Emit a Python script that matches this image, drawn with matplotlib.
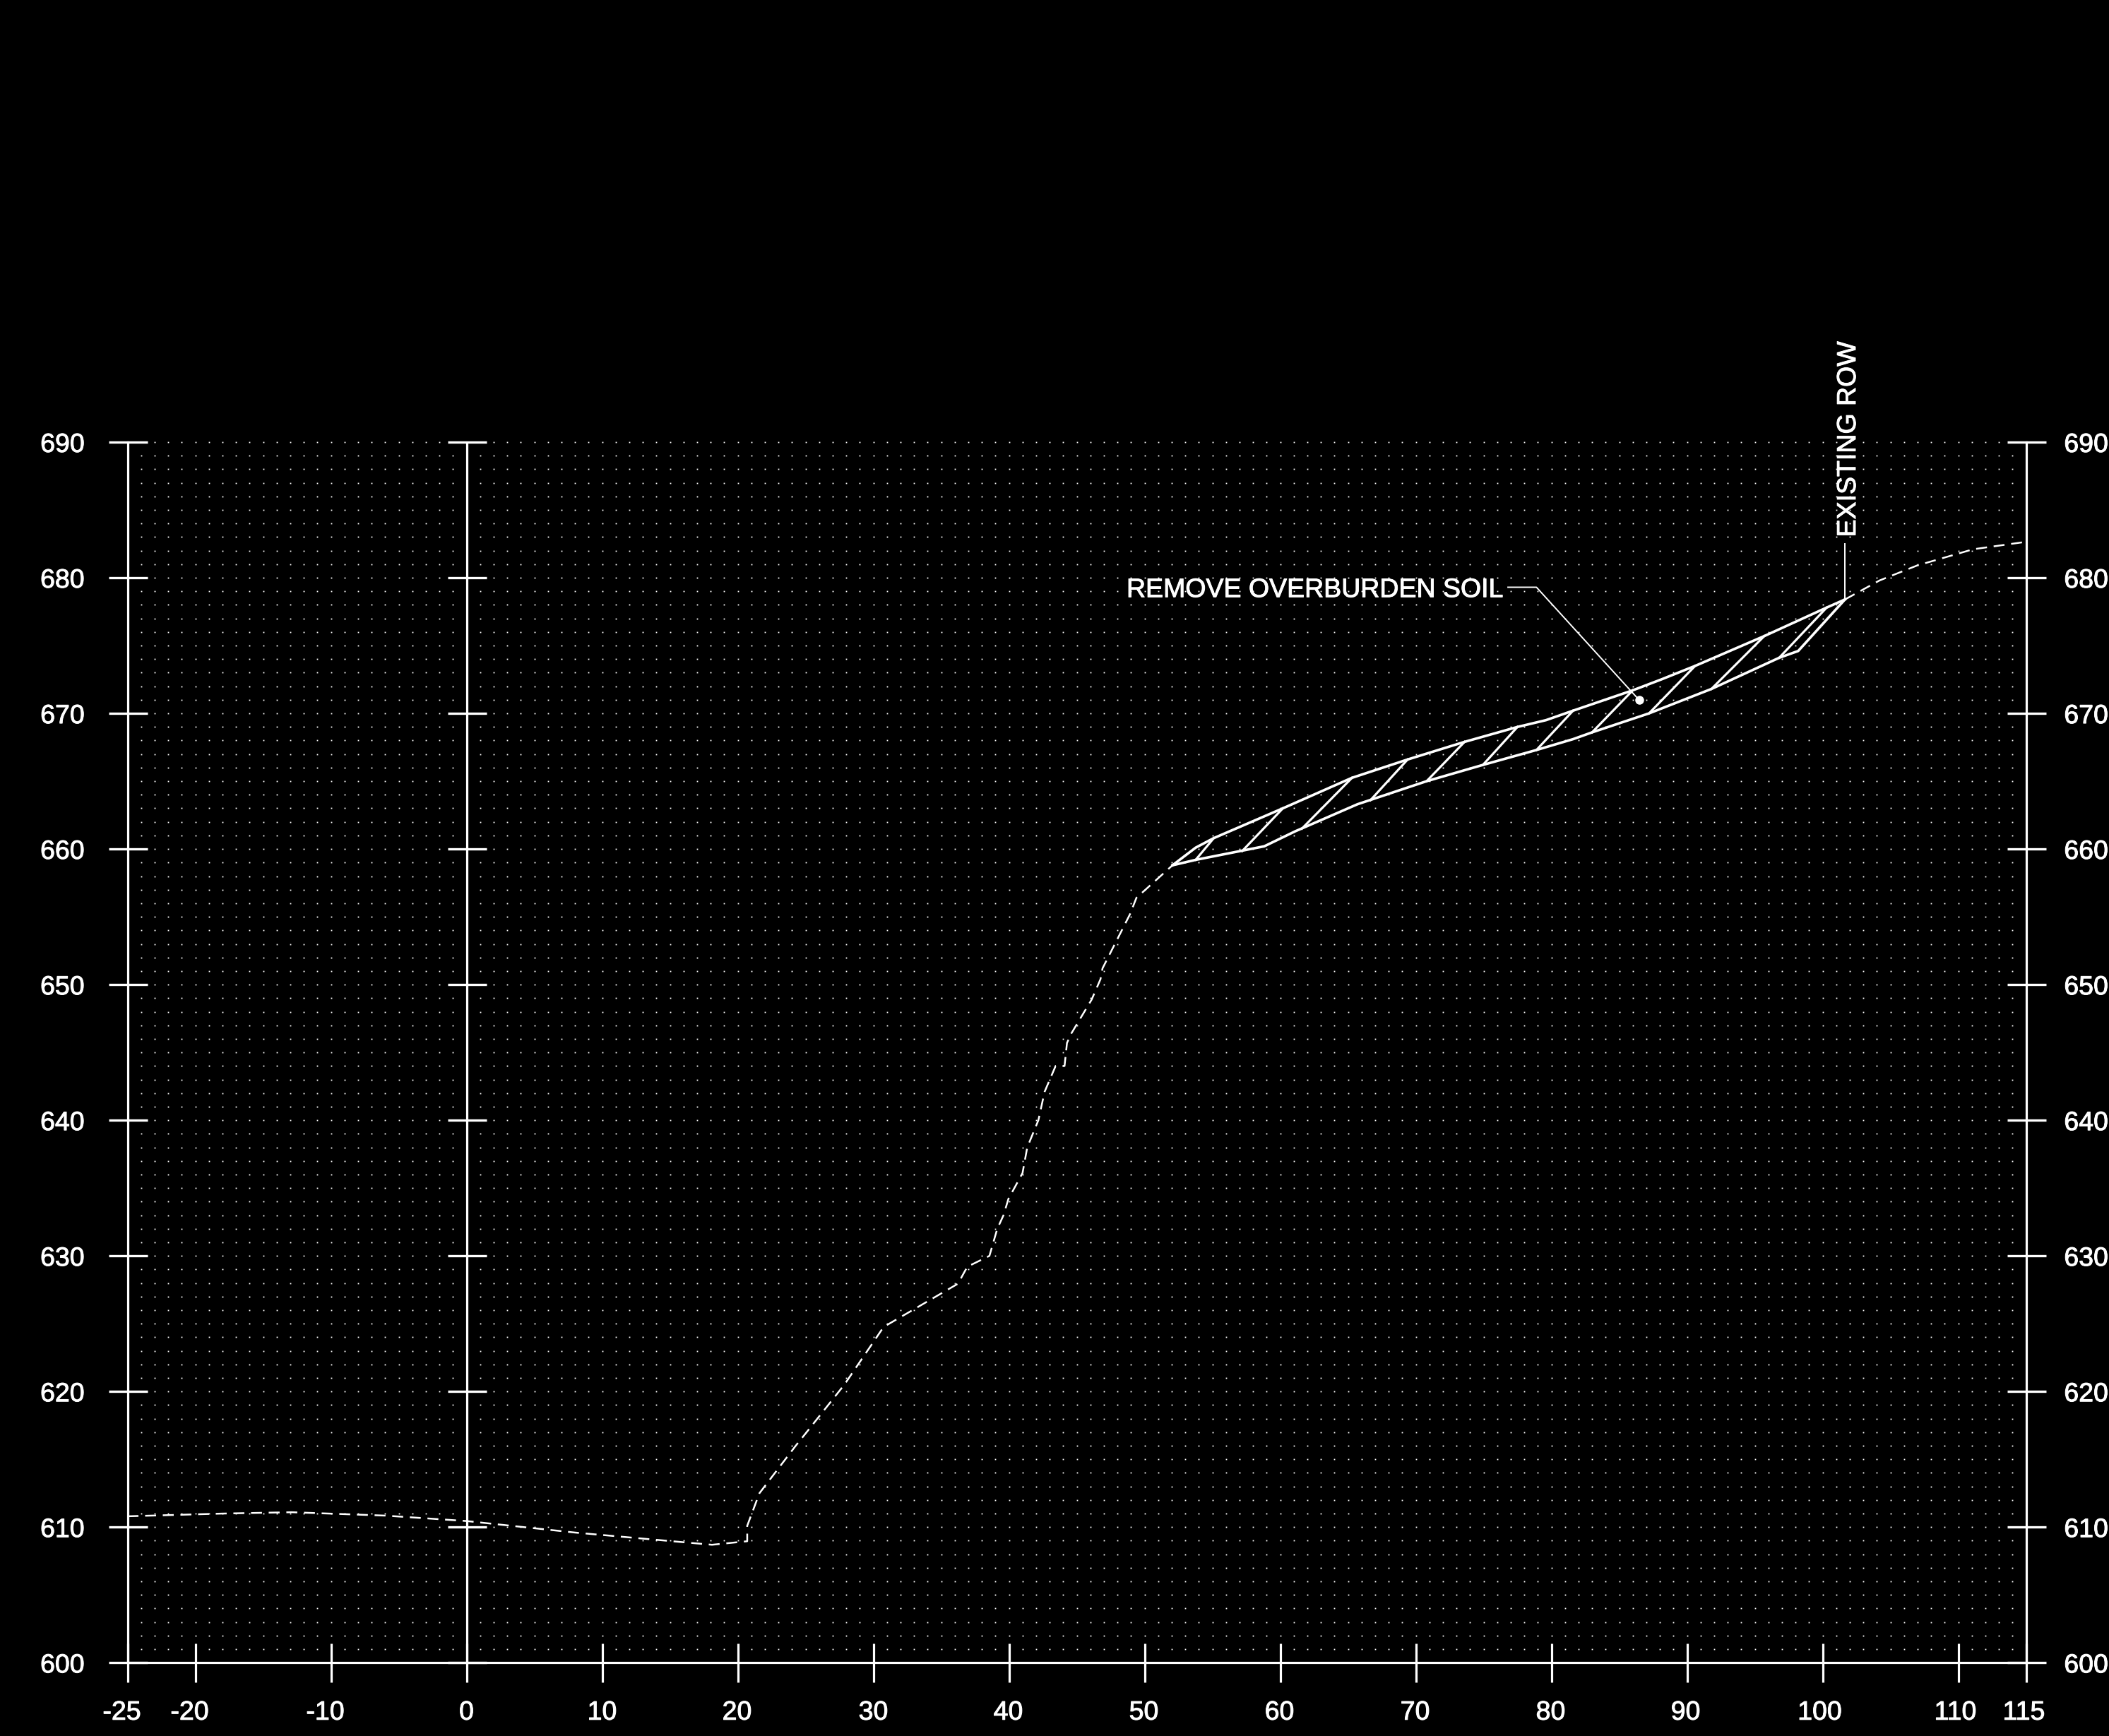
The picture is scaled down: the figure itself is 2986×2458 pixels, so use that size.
import matplotlib
matplotlib.use('Agg')
import matplotlib.pyplot as plt
import matplotlib.patheffects as pe
import matplotlib.transforms as mtrans
import numpy as np

plt.rcParams['font.family'] = ['Liberation Sans', 'DejaVu Sans']
plt.rcParams['axes.unicode_minus'] = False

# existing ground, left part (dashed)
ground_left_x = [-25, -18, -12.9, -6, 0, 8, 18.1, 20.7, 20.7, 21.6, 24.26, 25.08, 27.86, 30.65, 31.0,
                 36.24, 36.93, 38.56, 39.14, 39.6, 39.96, 41.0, 41.35, 42.17, 42.63, 43.44, 44.1,
                 44.28, 44.6, 46.1, 46.75, 46.9, 48.93, 49.4, 52.06]
ground_left_y = [610.8, 611.0, 611.1, 610.85, 610.45, 609.6, 608.7, 608.96, 610.1, 612.5, 615.98, 617.0, 620.5, 624.6, 624.9,
                 627.95, 629.2, 630.0, 632.0, 633.0, 634.2, 636.1, 638.0, 640.0, 642.1, 644.0, 644.0,
                 645.7, 646.4, 648.9, 650.4, 651.2, 655.2, 656.4, 658.8]

# existing ground, right part (dashed)
ground_right_x = [101.65, 104.2, 106.96, 111.1, 115]
ground_right_y = [678.4, 679.8, 680.9, 682.1, 682.65]

# soil surface above the cut
upper_x = [52.06, 53.77, 55.1, 60.2, 65.3, 69.4, 73.6, 77.5, 79.6, 81.6, 86.0, 88.1, 90.6, 95.7, 100.3, 101.65]
upper_y = [658.8, 660.1, 660.8, 663.0, 665.25, 666.6, 667.9, 669.0, 669.5, 670.2, 671.7, 672.5, 673.5, 675.7, 677.8, 678.4]

# cut line
lower_x = [52.06, 53.77, 58.83, 61.1, 65.7, 70.8, 74.95, 78.9, 81.6, 83.0, 87.2, 91.8, 96.8, 98.2, 101.65]
lower_y = [658.8, 659.2, 660.2, 661.3, 663.3, 665.0, 666.2, 667.3, 668.1, 668.6, 670.0, 671.8, 674.1, 674.6, 678.4]

# hatch strokes between the two lines
hatch_x0 = [53.77, 57.2, 61.6, 66.66, 70.8, 74.95, 78.9, 83.0, 87.2, 91.8, 96.8]
hatch_y0 = [659.2, 659.85, 661.5, 663.6, 665.0, 666.2, 667.3, 668.6, 670.0, 671.8, 674.1]
hatch_x1 = [55.1, 60.2, 65.3, 69.4, 73.6, 77.5, 81.6, 86.0, 90.6, 95.7, 100.3]
hatch_y1 = [660.8, 663.0, 665.25, 666.6, 667.9, 669.0, 670.2, 671.7, 673.5, 675.7, 677.8]

# leaders
soil_leader_x = [76.8, 78.9, 86.46]
soil_leader_y = [679.3, 679.3, 671.0]
row_leader_x = [101.65, 101.65]
row_leader_y = [678.4, 682.5]

x_ticks = [-25, -20, -10, 0, 10, 20, 30, 40, 50, 60, 70, 80, 90, 100, 110, 115]
y_ticks = [600, 610, 620, 630, 640, 650, 660, 670, 680, 690]
x_label_shift_px = [-8, -8, -8, 0, 0, -1, 0, -1, -1, -1, -1, -1, -2, -4, -4, -3]

W, H = 2986, 2458
fig = plt.figure(figsize=(W / 100, H / 100), dpi=100, facecolor='black')
ax = fig.add_axes([180.5 / W, (H - 2354.3) / H, 2688 / W, 1728.3 / H], facecolor='black')
ax.set_xlim(-25, 115)
ax.set_ylim(600, 690)

# dot grid, one dot per unit
gx, gy = np.meshgrid(np.arange(-24, 115), np.arange(601, 691))
ax.plot(gx.ravel(), gy.ravel(), ls='', marker='s', ms=1.3, mew=0, color='white', clip_on=False, zorder=1)

# middle axis at x=0 with its own ticks
ax.plot([0, 0], [600, 690], color='white', lw=2.3, solid_capstyle='butt', zorder=3)
ax.plot([0] * len(y_ticks), y_ticks, ls='', marker='_', ms=39.6, mew=2.4, color='white', clip_on=False, zorder=3)

dash = (0, (6.2, 3.8))
ax.plot(ground_left_x, ground_left_y, color='white', lw=1.8, ls=dash, zorder=4)
ax.plot(ground_right_x, ground_right_y, color='white', lw=1.8, ls=dash, zorder=4)

ax.plot(upper_x, upper_y, color='white', lw=2.6, zorder=4)
ax.plot(lower_x, lower_y, color='white', lw=2.6, zorder=4)
for x0, y0, x1, y1 in zip(hatch_x0, hatch_y0, hatch_x1, hatch_y1):
    ax.plot([x0, x1], [y0, y1], color='white', lw=2.3, zorder=4)

ax.plot(soil_leader_x, soil_leader_y, color='white', lw=1.4, zorder=4)
ax.plot(soil_leader_x[-1], soil_leader_y[-1], marker='o', ms=9, mew=0, color='white', zorder=5)
ax.plot(row_leader_x, row_leader_y, color='white', lw=1.4, zorder=4)

heavier = [pe.withStroke(linewidth=0.7, foreground='white')]
ax.text(76.45, 679.1, 'REMOVE OVERBURDEN SOIL', color='white', fontsize=27, ha='right', va='center',
        path_effects=heavier)
ax.text(101.9, 683.0, 'EXISTING ROW', color='white', fontsize=27, rotation=90, ha='center', va='bottom',
        path_effects=heavier)

ax.spines['top'].set_visible(False)
for side in ['left', 'right', 'bottom']:
    ax.spines[side].set_color('white')
    ax.spines[side].set_linewidth(2.3)

ax.set_xticks(x_ticks)
ax.set_yticks(y_ticks)
ax.tick_params(axis='x', direction='inout', length=39.6, width=2.3, color='white', labelcolor='white',
               labelsize=27, pad=18)
ax.tick_params(axis='y', direction='inout', length=39.6, width=2.4, color='white', labelcolor='white',
               labelsize=27, pad=24, left=True, right=True, labelleft=True, labelright=True)

for lab, shift in zip(ax.get_xticklabels(), x_label_shift_px):
    lab.set_transform(lab.get_transform() + mtrans.ScaledTranslation(shift / 100, 0, fig.dpi_scale_trans))
    lab.set_path_effects(heavier)

# right labels sit closer to the axis than the left ones
for tick in ax.yaxis.get_major_ticks():
    tick.label2.set_transform(tick.label2.get_transform() + mtrans.ScaledTranslation(-7 / 100, 0, fig.dpi_scale_trans))
    tick.label1.set_path_effects(heavier)
    tick.label2.set_path_effects(heavier)

fig.savefig('out.png', dpi=100, facecolor='black')
